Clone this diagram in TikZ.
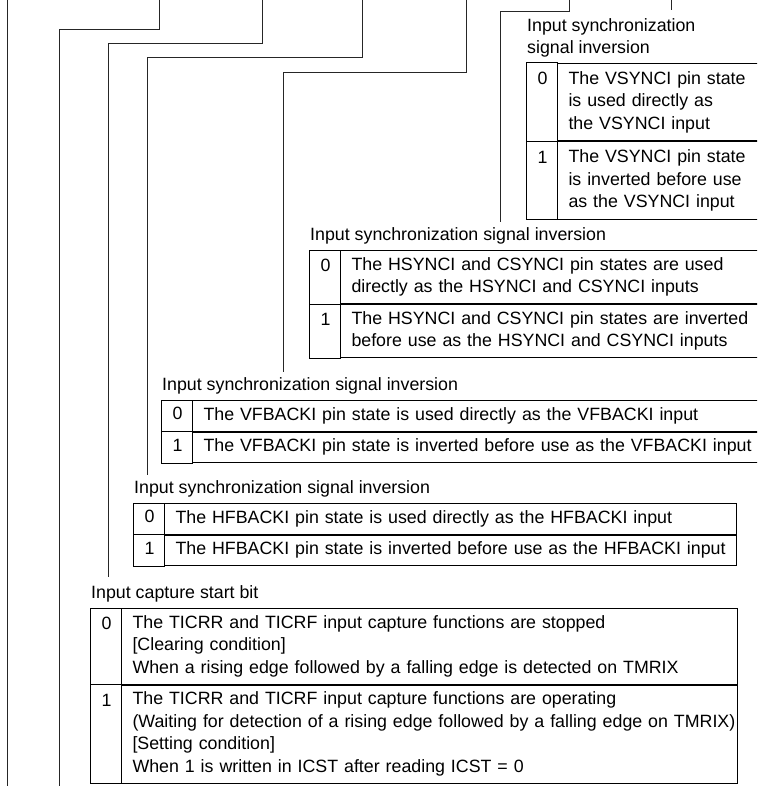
\documentclass[tikz,border=0pt]{standalone}
\usepackage{fontspec}
\setmainfont{Liberation Sans}
\usetikzlibrary{positioning}

\begin{document}
\begin{tikzpicture}[
  x=1pt, y=-1pt,
  font=\fontsize{17.8pt}{22.5pt}\selectfont,
  cell/.style={draw, line width=1pt, anchor=north west, align=left,
    inner xsep=11pt, inner ysep=4pt,
    execute at begin node=\strut, execute at end node=\strut},
  bitno/.style={anchor=base, xshift=-14.5pt, inner sep=0pt},
  bitname/.style={anchor=south west, align=left, inner sep=0pt,
    xshift=1pt, yshift=2.25pt, execute at end node=\strut},
  lead/.style={line width=0.9pt, draw=black!85},
]
  \useasboundingbox (0,0) rectangle (757,786);
  \clip (0,0) rectangle (757,786);

  % Leader lines from the register bits
  \coordinate (top6) at (7,0);
  \coordinate (end6) at (7,786);
  \draw[lead] (top6) -- (end6);
  \foreach \b/\xt/\yj/\xe/\ye in {5/159/29/59/786, 4/262/43/108/577,
      3/362/57/147/475, 2/466/72/283/372, 1/569/11/500/222}{
    \coordinate (top\b) at (\xt,0);
    \coordinate (end\b) at (\xe,\ye);
    \draw[lead] (top\b) -- ++(0,\yj) -| (end\b);
  }
  \coordinate (top0) at (671,0);
  \coordinate (end0) at (671,10);
  \draw[lead] (top0) -- (end0);

  % VSYNCI
  \node[cell, text width=199pt, inner ysep=5pt] (vs0) at (557,63)
    {The VSYNCI pin state\\is used directly as\\the VSYNCI input};
  \node[cell, text width=199pt, inner ysep=5pt] (vs1) at (vs0.south west)
    {The VSYNCI pin state\\is inverted before use\\as the VSYNCI input};
  \node[bitname] (vslbl) at ([xshift=-31pt]vs0.north west)
    {Input synchronization\\signal inversion};

  % HSYNCI / CSYNCI
  \node[cell, text width=416pt] (hs0) at (340,250)
    {The HSYNCI and CSYNCI pin states are used\\directly as the HSYNCI and CSYNCI inputs};
  \node[cell, text width=416pt] (hs1) at (hs0.south west)
    {The HSYNCI and CSYNCI pin states are inverted\\before use as the HSYNCI and CSYNCI inputs};
  \node[bitname] (hslbl) at ([xshift=-31pt]hs0.north west)
    {Input synchronization signal inversion};

  % VFBACKI
  \node[cell, text width=570pt] (vf0) at (192,400)
    {\mbox{The VFBACKI pin state is used directly as the VFBACKI input}};
  \node[cell, text width=570pt] (vf1) at (vf0.south west)
    {\mbox{The VFBACKI pin state is inverted before use as the VFBACKI input}};
  \node[bitname] (vflbl) at ([xshift=-31pt]vf0.north west)
    {Input synchronization signal inversion};

  % HFBACKI
  \node[cell, text width=550pt] (hf0) at (164,503)
    {\mbox{The HFBACKI pin state is used directly as the HFBACKI input}};
  \node[cell, text width=550pt] (hf1) at (hf0.south west)
    {\mbox{The HFBACKI pin state is inverted before use as the HFBACKI input}};
  \node[bitname] (hflbl) at ([xshift=-31pt]hf0.north west)
    {Input synchronization signal inversion};

  % ICST
  \node[cell, text width=594pt] (ic0) at (121,608)
    {The TICRR and TICRF input capture functions are stopped\\{}[Clearing condition]\\\mbox{When a rising edge followed by a falling edge is detected on TMRIX}};
  \node[cell, text width=594pt] (ic1) at (ic0.south west)
    {The TICRR and TICRF input capture functions are operating\\\mbox{(Waiting for detection of a rising edge followed by a falling edge on TMRIX)}\\{}[Setting condition]\\When 1 is written in ICST after reading ICST = 0};
  \node[bitname] (iclbl) at ([xshift=-31pt]ic0.north west)
    {Input capture start bit};

  % Bit value column
  \foreach \r/\d/\dy in {vs0/0/22, vs1/1/22, hs0/0/21.5, hs1/1/21.5, vf0/0/19.75,
      vf1/1/19.75, hf0/0/19.75, hf1/1/19.75, ic0/0/21.5, ic1/1/21.5}{
    \draw[line width=1pt] ([xshift=-31pt]\r.north west) rectangle (\r.south west);
    \node[bitno, yshift=-\dy pt] at (\r.north west) {\d};
  }
\end{tikzpicture}
\end{document}
